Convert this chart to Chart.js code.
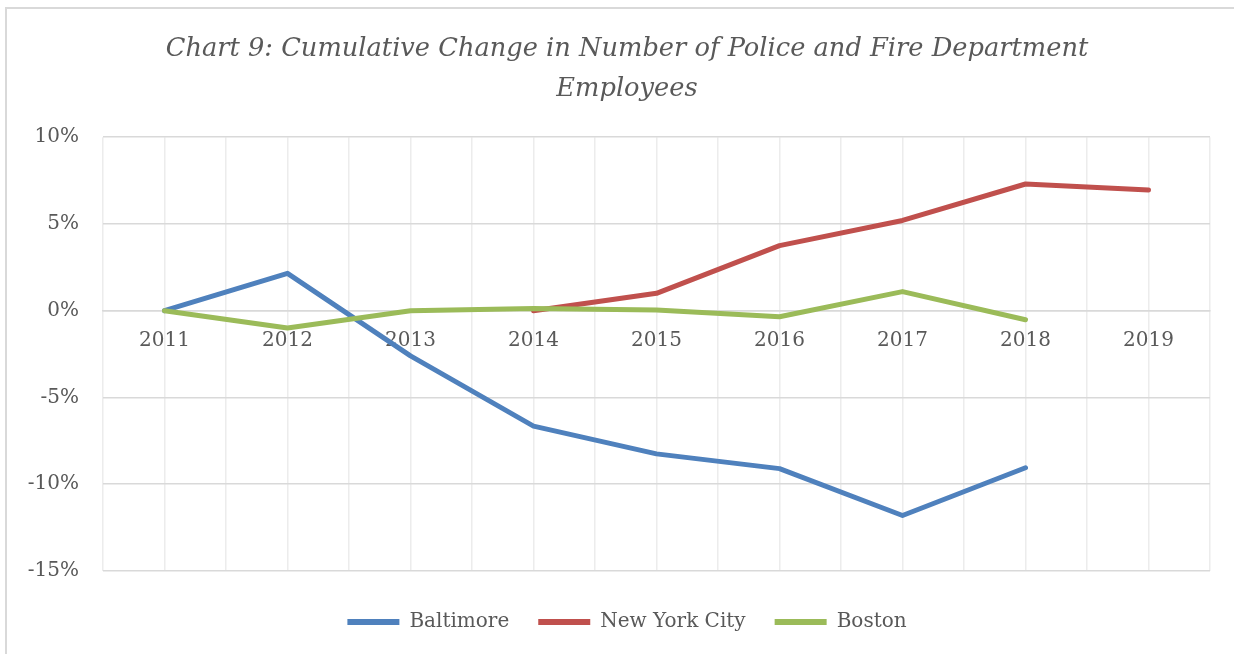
<!DOCTYPE html>
<html>
<head>
<meta charset="utf-8">
<script src="https://cdn.jsdelivr.net/npm/chart.js@4.4.0/dist/chart.umd.min.js"></script>
<style>
  html, body { margin: 0; background: #fff; overflow: hidden; }
  #frame { position: absolute; left: 5px; top: 7px; width: 1240px; height: 660px;
           border-left: 2px solid #d9d9d9; border-top: 2px solid #d9d9d9; }
  #out { position: absolute; left: 0; top: 0; }
</style>
</head>
<body>
<div id="frame"></div>
<canvas id="out" width="1234" height="654"></canvas>
<script>
const years = ["2011", "2012", "2013", "2014", "2015", "2016", "2017", "2018", "2019"];

// cumulative change, percent
const baltimore = [0, 2.15, -2.6, -6.65, -8.25, -9.1, -11.8, -9.05, null];
const newYorkCity = [null, null, null, 0, 1.0, 3.75, 5.2, 7.3, 6.95];
const boston = [0, -1.0, 0.0, 0.13, 0.04, -0.35, 1.1, -0.52, null];

const yTicks = [-15, -10, -5, 0, 5, 10];

const serif = "'DejaVu Serif', 'Liberation Serif', serif";
const textColor = "#595959";

function series(label, data, color, order) {
  return {
    label: label,
    data: data,
    borderColor: color,
    backgroundColor: color,
    borderWidth: 5,
    borderCapStyle: "round",
    borderJoinStyle: "round",
    pointRadius: 0,
    pointHoverRadius: 0,
    tension: 0,
    spanGaps: false,
    order: order
  };
}

const canvasCtx = document.getElementById("out").getContext("2d");

const chartConfig = {
  type: "line",
  data: {
    labels: years,
    datasets: [
      series("Baltimore", baltimore, "#4f81bd", 3),
      series("New York City", newYorkCity, "#c0504d", 2),
      series("Boston", boston, "#9bbb59", 1)
    ]
  },
  options: {
    responsive: false,
    animation: false,
    devicePixelRatio: 1,
    layout: { padding: { left: 20, right: 0, top: 0, bottom: 12 } },
    plugins: {
      title: {
        display: true,
        text: ["Chart 9: Cumulative Change in Number of Police and Fire Department", "Employees"],
        color: textColor,
        font: { family: serif, size: 25.7, style: "italic", weight: "normal", lineHeight: 1.54 },
        padding: { top: 30, bottom: 28 }
      },
      legend: {
        position: "bottom",
        labels: {
          usePointStyle: true,
          pointStyle: "line",
          pointStyleWidth: 52,
          padding: 29,
          color: textColor,
          font: { family: serif, size: 20 },
          generateLabels: (chart) => {
            const items = Chart.defaults.plugins.legend.labels.generateLabels(chart);
            items.forEach(it => { it.lineWidth = 6; });
            return items;
          },
          sort: (a, b) => a.datasetIndex - b.datasetIndex
        }
      },
      tooltip: { enabled: false }
    },
    scales: {
      x: {
        type: "category",
        position: { y: 0 },
        offset: true,
        grid: { offset: true, color: "#ececec", lineWidth: 1.5, drawTicks: false },
        border: { color: "#d9d9d9", width: 1.5 },
        ticks: { color: textColor, font: { family: serif, size: 20 }, padding: 18, maxRotation: 0 }
      },
      xg: {
        type: "category",
        position: "bottom",
        offset: true,
        grid: { offset: false, color: "#ececec", lineWidth: 1.5, drawTicks: false },
        border: { display: false },
        ticks: { display: false },
        afterFit: (scale) => { scale.height = 12; }
      },
      y: {
        min: yTicks[0],
        max: yTicks[yTicks.length - 1],
        afterBuildTicks: (scale) => { scale.ticks = yTicks.map(v => ({ value: v })); },
        grid: { color: "#d9d9d9", lineWidth: 1.5, drawTicks: false },
        border: { display: false },
        ticks: {
          color: textColor,
          font: { family: serif, size: 20 },
          padding: 24,
          callback: (v) => v + "%"
        },
        afterFit: (scale) => { scale.width = 83; }
      },
      yr: {
        type: "linear",
        position: "right",
        grid: { display: false },
        border: { display: false },
        ticks: { display: false },
        afterFit: (scale) => { scale.width = 24; }
      }
    }
  }
};

window.chart = new Chart(canvasCtx, chartConfig);
</script>
</body>
</html>
